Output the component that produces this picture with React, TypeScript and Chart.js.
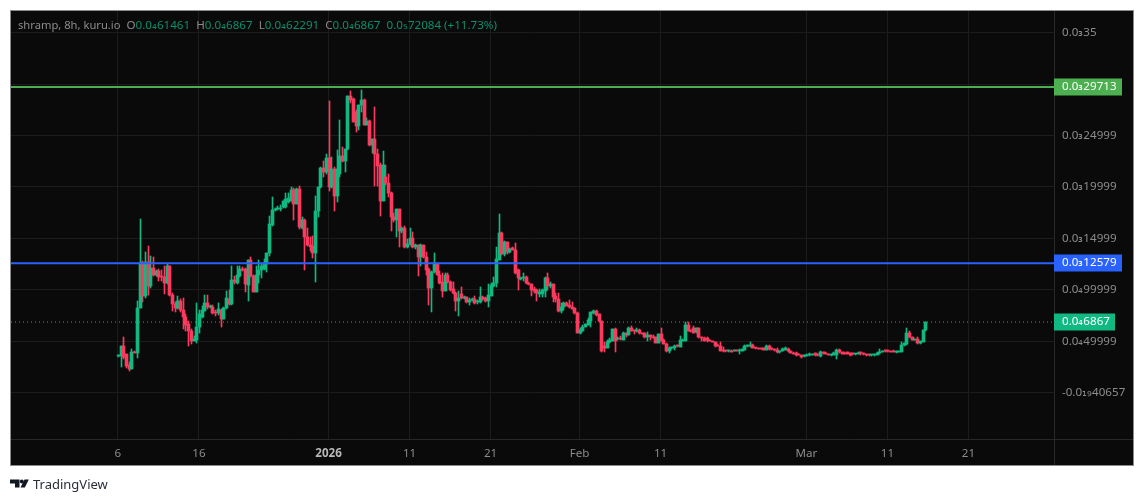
import React, { useEffect, useRef } from "react";
import { Chart, registerables } from "chart.js";

Chart.register(...registerables);

// Prices are expressed in units of 0.00001
const opens = [
  3.6,3.53,4.57,3.76,2.72,2.33,4.0,3.89,8.2,12.64,
  9.43,12.74,10.4,12.15,11.47,11.8,11.35,11.28,10.7,12.35,
  9.5,8.62,8.2,8.94,8.04,7.39,6.68,6.03,5.05,5.12,
  6.35,7.39,7.97,8.75,8.3,8.36,7.8,7.71,8.07,7.19,
  8.23,9.1,8.62,10.98,10.69,11.37,12.05,12.0,10.5,12.9,
  11.37,9.82,11.47,11.92,12.02,12.5,13.54,16.33,17.8,17.85,
  17.9,18.08,18.08,18.5,18.66,19.73,18.37,19.83,16.0,16.78,
  15.17,14.39,14.3,13.61,17.63,19.96,21.84,21.45,22.78,19.96,
  21.74,19.15,21.26,23.04,22.55,23.69,28.87,28.55,27.3,25.96,
  27.96,28.48,26.05,26.44,24.1,24.69,23.2,22.13,18.66,21.0,
  20.41,19.41,17.1,16.79,17.85,15.68,16.04,14.13,14.45,15.04,
  14.2,14.39,13.22,14.39,13.16,12.02,10.14,11.7,12.5,11.44,
  10.73,9.92,11.44,10.79,10.08,9.69,8.88,9.62,9.2,9.27,
  8.78,9.0,9.1,8.78,8.78,9.33,9.17,8.94,9.43,10.37,
  10.63,12.93,15.55,13.48,14.61,13.71,14.06,13.9,11.96,11.08,
  11.11,11.28,10.69,10.56,10.08,9.98,9.59,9.59,9.92,11.15,
  10.37,10.56,9.43,9.1,7.97,8.3,8.72,8.55,8.36,8.2,
  7.74,5.83,6.03,6.42,6.61,7.0,7.71,7.94,7.65,6.93,
  4.57,4.34,4.89,5.05,6.19,5.18,5.31,5.15,5.83,5.64,
  6.32,6.09,5.96,6.09,5.83,5.8,5.38,5.6,5.44,5.38,
  4.86,5.74,5.12,4.76,4.08,4.3,4.3,4.6,4.47,5.05,
  5.05,6.61,6.09,6.25,5.87,6.25,5.44,5.35,5.28,5.12,
  5.05,4.96,4.67,4.57,4.18,4.08,4.02,4.08,4.08,4.15,
  4.05,4.08,4.15,4.5,4.5,4.67,4.34,4.34,4.32,4.3,
  4.18,4.54,4.28,4.21,4.18,3.92,4.08,4.18,4.28,4.08,
  3.89,3.82,3.73,3.66,3.53,3.6,3.63,3.66,3.82,3.73,
  3.53,3.95,3.89,3.79,3.63,3.66,3.66,4.18,3.99,3.89,
  3.92,3.86,3.82,3.73,3.79,3.89,3.82,3.79,3.69,3.63,
  3.63,3.69,3.82,3.95,4.08,4.05,4.05,4.02,3.92,3.95,
  3.99,4.6,4.7,5.83,5.44,5.15,5.22,4.8,4.96,6.06,
];
const highs = [
  3.7,4.57,5.44,3.8,2.95,4.24,4.1,8.94,16.88,12.83,
  13.7,14.29,13.32,13.2,11.9,12.0,11.9,12.35,12.5,12.35,
  9.7,8.78,9.43,9.1,9.2,7.65,7.0,6.19,5.54,8.68,
  8.04,8.4,9.53,9.53,8.5,8.49,8.0,8.75,8.1,8.36,
  9.92,10.0,12.35,11.37,12.35,12.35,12.25,12.1,12.9,13.2,
  11.47,12.35,12.9,12.5,13.0,13.61,17.2,19.05,18.0,18.1,
  18.2,18.66,19.4,19.38,20.03,19.85,19.9,20.12,17.1,16.9,
  16.0,15.1,15.26,19.15,20.03,21.9,22.55,23.2,28.39,22.88,
  21.97,23.62,26.54,23.9,23.7,28.87,29.36,28.6,27.5,28.0,
  29.46,28.5,26.67,26.5,24.7,27.8,23.69,22.33,23.5,22.16,
  21.26,19.5,17.5,17.9,17.9,16.1,16.2,14.9,16.0,15.65,
  14.5,14.4,14.45,14.4,13.67,12.1,11.8,13.6,12.6,11.86,
  11.67,11.63,11.67,10.9,10.79,9.75,9.92,10.3,9.4,9.3,
  9.24,9.2,9.43,8.98,10.3,9.43,9.3,10.56,10.63,11.28,
  14.19,17.37,15.6,14.7,14.65,14.06,14.15,14.58,12.0,11.2,
  11.67,11.3,10.75,10.6,10.3,10.05,10.05,10.05,11.2,11.67,
  10.79,10.6,9.69,9.69,8.75,8.8,8.78,9.0,8.78,8.25,
  7.8,6.25,6.61,6.7,7.26,7.85,8.0,8.04,7.65,7.0,
  4.89,5.1,5.31,6.2,6.32,5.44,5.54,5.9,5.85,6.35,
  6.51,6.1,6.25,6.22,5.85,5.82,5.9,5.64,5.64,5.4,
  5.75,6.25,5.18,4.8,4.4,4.4,4.67,4.62,5.54,5.2,
  6.84,6.84,6.1,6.51,6.3,6.3,5.45,5.4,5.38,5.15,
  5.05,4.97,4.7,4.89,4.4,4.1,4.15,4.12,4.17,4.18,
  4.2,4.24,4.67,4.6,4.96,4.7,4.36,4.36,4.34,4.32,
  4.67,4.6,4.3,4.22,4.31,4.1,4.3,4.41,4.3,4.1,
  3.92,3.92,3.75,3.68,3.7,3.72,3.89,3.75,3.89,3.75,
  4.05,3.97,3.91,3.81,3.71,3.91,4.24,4.2,4.0,3.92,
  3.95,3.88,3.84,3.81,3.91,3.91,3.84,3.8,3.7,3.68,
  3.81,3.91,4.28,4.04,4.18,4.07,4.07,4.15,4.04,4.1,
  4.93,4.85,6.29,6.03,5.46,5.24,5.38,5.04,6.14,6.867,
];
const lows = [
  3.5,2.46,3.3,2.4,2.14,2.33,3.85,3.34,8.2,8.78,
  9.2,9.53,10.17,11.37,11.37,10.9,10.9,9.62,10.56,9.4,
  7.97,7.8,8.13,7.8,6.19,6.03,4.57,4.73,4.99,4.8,
  5.8,7.3,7.9,8.13,8.2,7.65,7.5,7.6,6.35,7.19,
  8.1,8.55,8.5,10.56,10.6,11.28,11.8,9.82,8.94,11.2,
  9.82,9.82,10.63,11.15,11.9,11.7,13.3,16.2,17.7,17.76,
  17.7,18.0,18.0,18.4,18.6,16.82,18.3,15.9,15.9,11.96,
  14.3,13.8,13.06,10.79,17.1,19.9,20.93,21.26,19.64,19.9,
  17.69,18.5,20.93,22.4,21.42,23.6,28.13,26.3,25.3,25.57,
  27.3,26.0,26.0,24.0,23.27,20.12,20.12,17.2,18.6,20.2,
  19.0,15.75,16.6,15.1,14.2,15.5,14.1,14.1,14.4,14.1,
  14.0,11.3,12.35,13.1,11.47,8.55,7.8,11.6,11.4,10.6,
  9.27,9.85,10.7,9.9,9.6,7.9,7.49,9.1,9.15,8.75,
  8.55,8.9,8.6,8.65,8.68,9.0,8.85,8.3,9.4,10.3,
  10.24,12.9,13.4,13.3,13.48,13.55,13.85,11.55,10.01,11.0,
  10.89,10.6,10.5,9.43,9.72,8.88,9.33,9.33,9.33,9.98,
  10.2,8.78,8.85,7.8,7.71,8.0,8.4,8.2,8.1,7.68,
  5.8,5.7,5.95,6.4,6.55,6.35,7.65,7.5,6.9,3.92,
  3.99,4.3,4.85,5.0,3.99,5.1,5.12,5.12,5.38,5.6,
  6.0,5.7,5.9,5.75,5.7,5.35,4.99,5.15,5.3,4.85,
  4.8,5.0,4.7,3.92,3.89,4.25,4.18,4.45,4.45,5.0,
  5.0,6.0,5.9,5.8,5.85,5.35,5.05,5.0,4.96,5.0,
  4.9,4.48,4.5,4.05,4.0,4.0,4.0,3.95,4.05,4.05,
  3.79,4.05,4.12,4.48,4.45,4.32,4.28,4.26,4.26,4.16,
  4.15,4.18,4.18,4.02,3.9,3.9,4.05,4.15,4.0,3.84,
  3.77,3.53,3.63,3.41,3.5,3.58,3.6,3.64,3.6,3.6,
  3.5,3.8,3.77,3.67,3.6,3.64,3.27,3.9,3.77,3.77,
  3.74,3.56,3.71,3.71,3.77,3.7,3.7,3.61,3.61,3.61,
  3.6,3.67,3.8,3.93,4.0,4.0,3.98,3.97,3.9,3.93,
  3.97,4.58,4.68,5.36,5.1,5.13,4.78,4.78,4.94,6.04,
];
const closes = [
  3.65,4.57,3.43,2.56,2.33,3.99,3.9,8.26,12.64,9.43,
  12.74,10.4,12.15,11.47,11.8,11.28,11.28,10.7,12.35,9.5,
  8.62,8.2,8.94,8.04,7.32,6.61,5.96,5.05,5.22,6.42,
  7.65,8.04,8.75,8.3,8.36,7.71,7.71,8.13,7.19,8.23,
  9.17,8.62,10.98,10.79,11.47,12.0,11.96,10.56,12.9,11.31,
  9.82,11.47,11.92,12.35,12.57,13.61,16.4,17.76,17.88,17.88,
  18.0,18.6,18.83,18.92,19.73,18.37,19.83,16.07,16.78,15.1,
  14.39,14.2,13.61,17.69,20.03,21.84,21.45,22.78,19.96,21.74,
  19.15,21.74,23.04,22.55,23.69,28.87,28.48,26.35,25.96,28.0,
  28.48,26.05,26.44,24.1,24.69,23.2,22.07,18.66,22.16,20.35,
  19.38,17.04,16.79,17.85,15.68,16.0,14.13,14.45,15.04,14.2,
  14.39,13.22,14.39,13.16,11.96,10.14,11.76,12.5,11.47,10.66,
  9.92,11.44,10.73,10.01,9.66,8.88,9.2,9.2,9.33,8.78,
  9.04,9.07,8.68,8.88,9.33,9.07,8.94,9.53,10.5,10.69,
  12.99,15.55,13.48,14.61,13.71,13.97,13.9,11.6,11.11,11.18,
  11.24,10.63,10.56,9.98,9.92,9.72,9.75,9.98,11.15,10.4,
  10.56,9.33,9.07,7.97,8.36,8.75,8.43,8.3,8.13,7.71,
  5.83,6.09,6.42,6.68,7.06,7.81,7.94,7.58,7.0,4.08,
  4.34,4.96,5.12,6.19,5.05,5.28,5.22,5.83,5.64,6.32,
  6.03,5.96,6.09,5.77,5.74,5.38,5.6,5.38,5.35,4.86,
  5.74,5.05,4.73,4.08,4.34,4.34,4.57,4.5,5.12,5.12,
  6.61,6.03,5.96,5.83,6.25,5.38,5.31,5.05,5.12,5.02,
  4.93,4.5,4.54,4.08,4.02,4.02,4.08,3.99,4.15,4.08,
  4.15,4.21,4.57,4.57,4.63,4.34,4.3,4.28,4.28,4.18,
  4.54,4.21,4.2,4.12,3.92,4.08,4.24,4.31,4.02,3.86,
  3.79,3.66,3.66,3.43,3.63,3.69,3.79,3.73,3.63,3.63,
  3.99,3.82,3.79,3.69,3.69,3.89,4.18,3.92,3.79,3.79,
  3.76,3.66,3.73,3.79,3.89,3.82,3.76,3.63,3.63,3.66,
  3.79,3.89,3.95,4.02,4.02,4.02,4.0,3.99,4.02,4.08,
  4.67,4.83,5.83,5.38,5.12,5.22,4.8,5.02,6.12,6.867,
];

const timeTickIndexes = [0, 30, 78, 108, 138, 171, 201, 255, 285, 315];
const timeTickLabels = ["6", "16", "2026", "11", "21", "Feb", "11", "Mar", "11", "21"];
const priceTickValues = [35, 30, 25, 20, 15, 10, 5, 0];
const priceTickLabels = ["0.0₃35", "", "0.0₃24999", "0.0₃19999", "0.0₃14999", "0.0₄99999", "0.0₄49999", "-0.0₁₉40657"];

const resistance = 29.713;
const support = 12.579;
const lastClose = 6.867;
const resistanceLabel = "0.0₃29713";
const supportLabel = "0.0₃12579";
const lastLabel = "0.0₄6867";

const legendParts: [string, string, number][] = [
  ["shramp, 8h, kuru.io", "#8c8c8c", 11.2],
  ["  O", "#8c8c8c", 11.6], ["0.0₄61461", "#0c8f6c", 11.6],
  ["  H", "#8c8c8c", 11.6], ["0.0₄6867", "#0c8f6c", 11.6],
  ["  L", "#8c8c8c", 11.6], ["0.0₄62291", "#0c8f6c", 11.6],
  ["  C", "#8c8c8c", 11.6], ["0.0₄6867", "#0c8f6c", 11.6],
  ["  0.0₅72084 (+11.73%)", "#0c8f6c", 11.6],
];

const FONT = 'SubDigits, "Noto Sans", sans-serif';
const UP = "#10b981";
const DOWN = "#fb3a5e";
const X_MIN = -39.6;
const X_MAX = 346.7;

const idx = opens.map((_, i) => i);
const candleColors = idx.map((i) => (closes[i] >= opens[i] ? UP : DOWN));

const frame = {
  id: "frame",
  beforeDraw(chart: any) {
    const { ctx, width, height } = chart;
    ctx.save();
    ctx.fillStyle = "#ffffff";
    ctx.fillRect(0, 0, width, height);
    ctx.fillStyle = "#0a0a0a";
    ctx.fillRect(10, 10, 1124, 456);
    ctx.restore();
  },
  beforeDatasetsDraw(chart: any) {
    // align candle rectangles to the pixel grid so they stay crisp
    chart.data.datasets.forEach((ds: any, d: number) => {
      if (ds.type !== "bar") return;
      chart.getDatasetMeta(d).data.forEach((el: any) => {
        const c = Math.round(el.x) + 0.5;
        const top = Math.round(Math.min(el.y, el.base));
        let bottom = Math.round(Math.max(el.y, el.base));
        if (bottom <= top) bottom = top + 1;
        el.x = c;
        el.y = top;
        el.base = bottom;
        el.height = bottom - top;
      });
    });
  },
  afterDraw(chart: any) {
    const { ctx, scales } = chart;
    ctx.save();
    ctx.strokeStyle = "#26282a";
    ctx.lineWidth = 1;
    ctx.beginPath();
    ctx.moveTo(1054.5, 11);
    ctx.lineTo(1054.5, 466);
    ctx.moveTo(11, 439.5);
    ctx.lineTo(1134, 439.5);
    ctx.stroke();
    ctx.strokeStyle = "#8b8b8f";
    ctx.strokeRect(10.5, 10.5, 1123, 455);

    const badge = (value: number, text: string, color: string, w: number) => {
      const y = Math.round(scales.y.getPixelForValue(value));
      ctx.fillStyle = color;
      ctx.fillRect(1054, y - 8.5, w, 17);
      ctx.fillStyle = "#ffffff";
      ctx.font = `11.6px ${FONT}`;
      ctx.textBaseline = "middle";
      ctx.textAlign = "left";
      ctx.fillText(text, 1062, y);
    };
    badge(resistance, resistanceLabel, "#4caf50", 68);
    badge(support, supportLabel, "#2962ff", 68);
    badge(lastClose, lastLabel, UP, 61);

    ctx.textBaseline = "middle";
    ctx.textAlign = "left";
    let x = 18;
    for (const [text, color, size] of legendParts) {
      ctx.font = `${size}px ${FONT}`;
      ctx.fillStyle = color;
      ctx.fillText(text, x, 26);
      x += ctx.measureText(text).width;
    }

    ctx.fillStyle = "#131722";
    ctx.fill(new Path2D("M10 479.5H19.5V487.5H15V483.5H10Z"));
    ctx.fill(new Path2D("M28.8 479.5L24.8 487.5H20.5L24.5 479.5Z"));
    ctx.beginPath();
    ctx.arc(21.8, 481.5, 2, 0, Math.PI * 2);
    ctx.fill();
    ctx.font = `13px ${FONT}`;
    ctx.fillStyle = "#2a2e39";
    ctx.fillText("TradingView", 33, 485.5);
    ctx.restore();
  },
};

const barSet = (data: any[], thickness: number, order: number) => ({
  type: "bar" as const,
  data,
  backgroundColor: candleColors,
  borderWidth: 0,
  barThickness: thickness,
  minBarLength: 1,
  grouped: false,
  order,
});

const levelLine = (value: number, color: string, width: number, dash: number[] = []) => ({
  type: "line" as const,
  data: [{ x: X_MIN, y: value }, { x: X_MAX, y: value }],
  borderColor: color,
  borderWidth: width,
  borderDash: dash,
  pointRadius: 0,
  order: 1,
});

export default function App() {
  const ref = useRef<HTMLCanvasElement>(null);
  useEffect(() => {
    let chart: any = null;
    let cancelled = false;
    const build = () => {
      if (cancelled || !ref.current) return;
      const wicks = idx.map((i) => ({ x: i, y: [lows[i], highs[i]] }));
      const bodies = idx.map((i) => ({ x: i, y: [opens[i], closes[i]] }));
      chart = new Chart(ref.current, {
        type: "bar",
        data: {
          datasets: [
            levelLine(resistance, "#4caf50", 2),
            levelLine(support, "#2962ff", 2),
            levelLine(lastClose, UP, 1, [1, 3]),
            barSet(wicks, 1, 3),
            barSet(bodies, 3, 2),
          ] as any,
        },
        options: {
          responsive: false,
          animation: false,
          devicePixelRatio: 1,
          layout: { padding: { left: 11, top: 11, right: 10, bottom: 36 } },
          plugins: { legend: { display: false }, tooltip: { enabled: false } },
          scales: {
            x: {
              type: "linear",
              offset: false,
              min: X_MIN,
              max: X_MAX,
              grid: { color: "#1c1c1c", offset: false, drawTicks: false },
              border: { display: false },
              afterBuildTicks: (s: any) => { s.ticks = timeTickIndexes.map((value) => ({ value })); },
              afterFit: (s: any) => { s.height = 27; s.paddingLeft = 0; s.paddingRight = 0; },
              ticks: {
                autoSkip: false,
                maxRotation: 0,
                padding: 8,
                color: (c: any) => (c.tick?.value === 78 ? "#b8b8b8" : "#8c8c8c"),
                font: (c: any) => ({ family: FONT, size: 11.6, weight: c.tick?.value === 78 ? "bold" : "normal" }),
                callback: (v: any) => timeTickLabels[timeTickIndexes.indexOf(Number(v))] ?? "",
              },
            },
            y: {
              type: "linear",
              position: "right",
              min: -4.5,
              max: 37.1,
              grid: { color: "#1c1c1c", drawTicks: false },
              border: { display: false },
              afterBuildTicks: (s: any) => { s.ticks = priceTickValues.map((value) => ({ value })); },
              afterFit: (s: any) => { s.width = 80; s.paddingTop = 0; s.paddingBottom = 0; },
              ticks: {
                padding: 8,
                color: "#8c8c8c",
                font: { family: FONT, size: 11.6 },
                callback: (v: any) => priceTickLabels[priceTickValues.indexOf(Number(v))] ?? "",
              },
            },
          },
        } as any,
        plugins: [frame],
      });
    };
    (document as any).fonts.load('11.6px SubDigits', "₃").then(build, build);
    return () => {
      cancelled = true;
      if (chart) chart.destroy();
    };
  }, []);
  return (
    <>
      <style>{'@font-face{font-family:"SubDigits";src:local("DejaVu Sans");unicode-range:U+2080-2089;}'}</style>
      <canvas
        ref={ref}
        width={1144}
        height={502}
        style={{ position: "fixed", left: 0, top: 0, width: 1144, height: 502, display: "block" }}
      />
    </>
  );
}
